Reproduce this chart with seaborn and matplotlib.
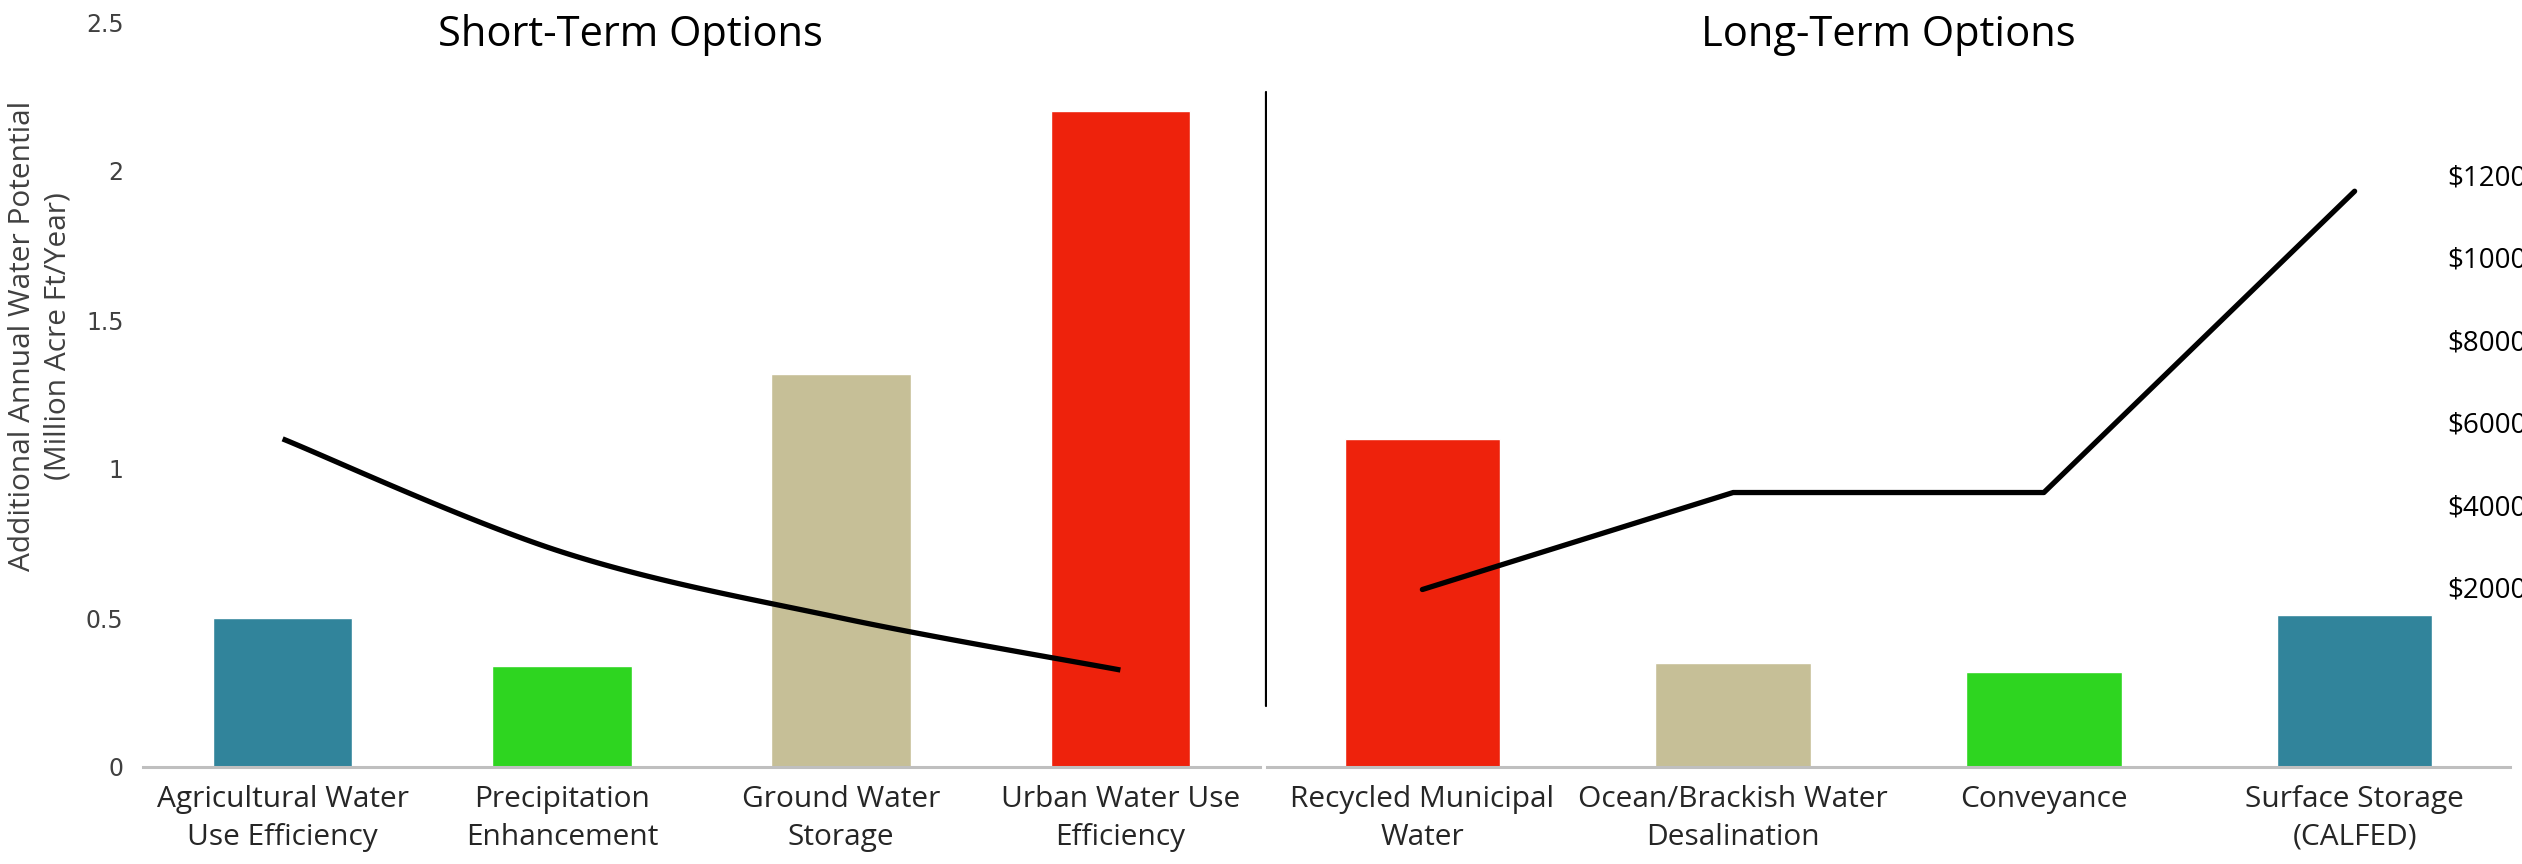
import numpy as np
import pandas as pd
import matplotlib
matplotlib.use("Agg")
import matplotlib.pyplot as plt
import seaborn as sns

# ---- data -------------------------------------------------------------
short_labels = ["Agricultural Water\nUse Efficiency", "Precipitation\nEnhancement",
                "Ground Water\nStorage", "Urban Water Use\nEfficiency"]
short_water = [0.50, 0.34, 1.32, 2.20]          # million acre-ft / year
short_cost = [5600, 2860, 1260, 0]               # $ per acre-ft
short_colors = ["#31849B", "#2ED520", "#C6BF97", "#EE220C"]

long_labels = ["Recycled Municipal\nWater", "Ocean/Brackish Water\nDesalination",
               "Conveyance", "Surface Storage\n(CALFED)"]
long_water = [1.10, 0.35, 0.32, 0.51]
long_cost = [1950, 4300, 4300, 11600]
long_colors = ["#EE220C", "#C6BF97", "#2ED520", "#31849B"]

water_ticks = [0, 0.5, 1, 1.5, 2, 2.5]
water_tick_labels = ["0", "0.5", "1", "1.5", "2", "2.5"]
cost_ticks = [2000, 4000, 6000, 8000, 10000, 12000]

# ---- style ------------------------------------------------------------
sns.set_theme(style="white")
plt.rcParams["font.family"] = ["Open Sans", "DejaVu Sans"]

W, H = 2522, 864
fig = plt.figure(figsize=(W / 100, H / 100), dpi=100)

bottom_px, top_px = 767, 22
def axes_rect(x0, x1):
    return [x0 / W, 1 - bottom_px / H, (x1 - x0) / W, (bottom_px - top_px) / H]

ax_s = fig.add_axes(axes_rect(143, 1260))
ax_l = fig.add_axes(axes_rect(1267, 2510))

COST_LIM = (-2350, 15700)
TEXT = "#262626"
TICK = "#404040"


def smooth_curve(xs, ys, n=40):
    """Catmull-Rom spline through the points, as used for smoothed lines."""
    xs = np.asarray(xs, float)
    ys = np.asarray(ys, float)
    px = np.concatenate([[xs[0]], xs, [xs[-1]]])
    py = np.concatenate([[ys[0]], ys, [ys[-1]]])
    out_x, out_y = [], []
    for i in range(1, len(px) - 2):
        t = np.linspace(0, 1, n)
        h00 = 2 * t**3 - 3 * t**2 + 1
        h10 = t**3 - 2 * t**2 + t
        h01 = -2 * t**3 + 3 * t**2
        h11 = t**3 - t**2
        mx0 = (px[i + 1] - px[i - 1]) / 2
        mx1 = (px[i + 2] - px[i]) / 2
        my0 = (py[i + 1] - py[i - 1]) / 2
        my1 = (py[i + 2] - py[i]) / 2
        out_x.append(h00 * px[i] + h10 * mx0 + h01 * px[i + 1] + h11 * mx1)
        out_y.append(h00 * py[i] + h10 * my0 + h01 * py[i + 1] + h11 * my1)
    return np.concatenate(out_x), np.concatenate(out_y)


def draw_panel(ax, labels, water, colors):
    df = pd.DataFrame({"option": labels, "water": water})
    sns.barplot(data=df, x="option", y="water", hue="option", palette=colors,
                width=0.5, saturation=1, legend=False, ax=ax)
    ax.set_ylim(0, 2.5)
    ax.set_xlim(-0.5, len(labels) - 0.5)
    ax.set_xlabel("")
    ax.set_ylabel("")
    for s in ["top", "right", "left"]:
        ax.spines[s].set_visible(False)
    ax.spines["bottom"].set_color("#BFBFBF")
    ax.spines["bottom"].set_linewidth(2.2)
    ax.tick_params(axis="x", length=0, pad=13, labelsize=21.5, labelcolor=TEXT)
    for t in ax.get_xticklabels():
        t.set_linespacing(1.4)
        t.set_va("top")


draw_panel(ax_s, short_labels, short_water, short_colors)
draw_panel(ax_l, long_labels, long_water, long_colors)

# left value axis
ax_s.set_yticks(water_ticks)
ax_s.set_yticklabels(water_tick_labels, family="DejaVu Sans")
ax_s.tick_params(axis="y", length=0, pad=14, labelsize=17, labelcolor=TICK)
ax_l.set_yticks([])

fig.text(40 / W, 1 - 336 / H,
         "Additional Annual Water Potential\n(Million Acre Ft/Year)",
         rotation=90, ha="center", va="center", fontsize=21.5, color=TICK,
         linespacing=1.3)

# cost lines on secondary axes
tw_s = ax_s.twinx()
tw_l = ax_l.twinx()
for tw in (tw_s, tw_l):
    tw.set_ylim(*COST_LIM)
    for s in tw.spines.values():
        s.set_visible(False)
    tw.grid(False)

cx, cy = smooth_curve(np.arange(len(short_cost)), short_cost)
tw_s.plot(cx, cy, color="black", lw=3.8, solid_capstyle="butt")
tw_s.set_yticks([])

sns.lineplot(x=np.arange(len(long_cost)), y=long_cost, color="black", lw=3.8,
             ax=tw_l)
tw_l.set_ylabel("")
tw_l.set_yticks(cost_ticks)
tw_l.set_yticklabels([f"${v}" for v in cost_ticks])
tw_l.tick_params(axis="y", length=0, pad=-45.5, labelsize=20, labelcolor="black")
tw_l.set_ylim(*COST_LIM)

# separator between the two option groups
ax_s.axvline(3.52, ymin=(bottom_px - 706) / (bottom_px - top_px),
             ymax=(bottom_px - 92) / (bottom_px - top_px),
             color="black", lw=1.6, clip_on=False)

# panel titles
fig.text(630 / W, 1 - 35 / H, "Short-Term Options", ha="center", va="center",
         fontsize=30, color="black")
fig.text(1888 / W, 1 - 35 / H, "Long-Term Options", ha="center", va="center",
         fontsize=30, color="black")

fig.savefig("out.png", dpi=100)
